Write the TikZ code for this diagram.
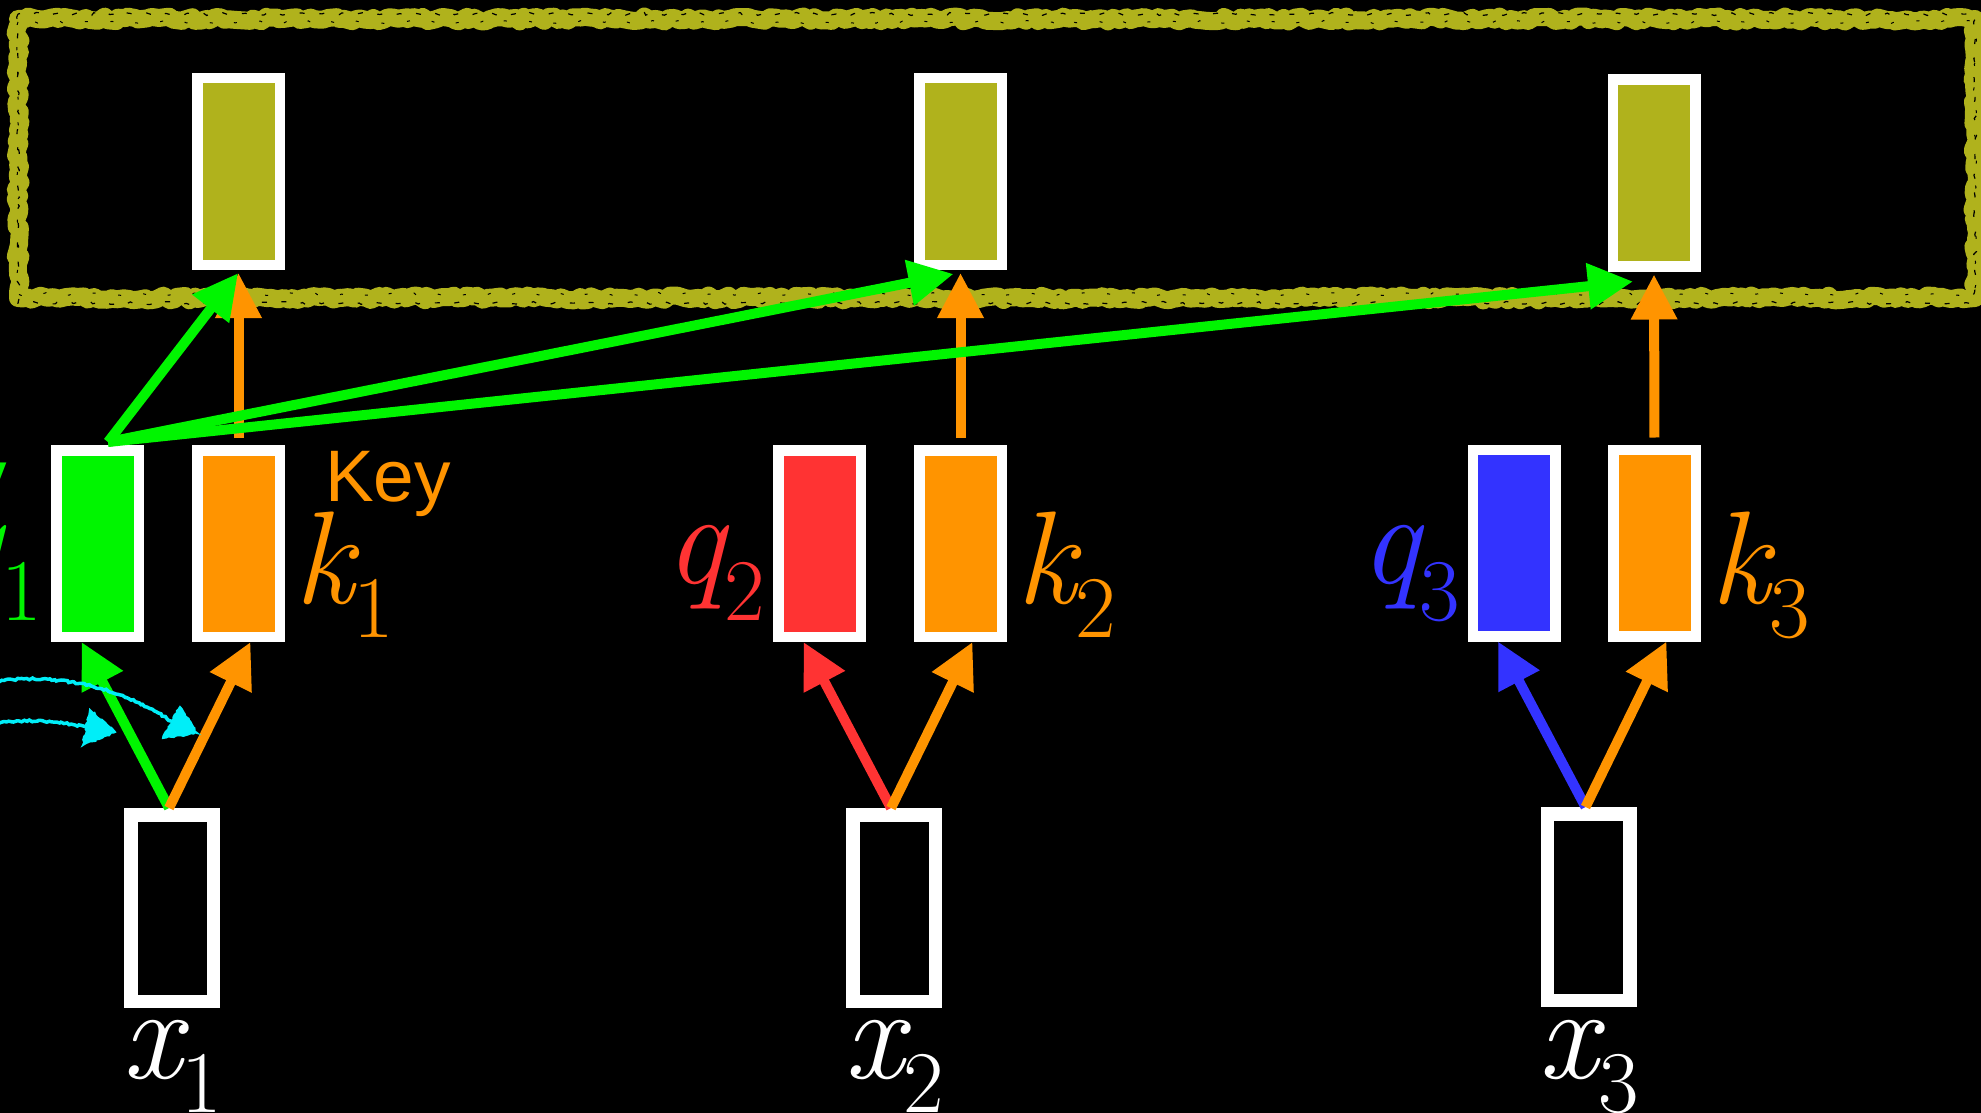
\documentclass[tikz,border=0pt]{standalone}
\usepackage{fontspec}
\newfontfamily\keyfont{Liberation Sans}
\usetikzlibrary{arrows.meta,decorations.pathmorphing}

\definecolor{vgreen}{RGB}{0,245,0}
\definecolor{korange}{RGB}{255,148,0}
\definecolor{qred}{RGB}{255,51,51}
\definecolor{qblue}{RGB}{51,51,255}
\definecolor{olive}{RGB}{176,178,28}
\definecolor{chalkcyan}{RGB}{0,238,248}

% symbol with a lowered upright index
\newcommand\symlab[3][34pt]{{\itshape #2}\raisebox{-#1}{\upshape\fontsize{88}{88}\selectfont #3}}

\tikzset{
  vec/.style={draw=white, line width=10.5pt, minimum width=82.5pt,
    minimum height=186.5pt, inner sep=0pt},
  inbox/.style={draw=white, fill=black, line width=13.5pt, minimum width=82.5pt,
    minimum height=186.5pt, inner sep=0pt},
  sym/.style={font=\rmfamily\fontsize{132}{132}\selectfont, inner sep=0pt},
  word/.style={font=\keyfont\fontsize{73}{73}\selectfont, inner sep=0pt},
  arr/.style={line width=10pt, -{Triangle[length=45pt,width=44pt]}},
  chalk/.style={draw=chalkcyan, line width=3.5pt, decorate,
    decoration={random steps, segment length=2.5pt, amplitude=1pt}},
  chalkhead/.style={fill=chalkcyan, draw=chalkcyan, line width=2pt, decorate,
    decoration={random steps, segment length=2.5pt, amplitude=1pt}},
}

\begin{document}
\begin{tikzpicture}[x=1pt,y=-1pt]
\useasboundingbox (0,0) rectangle (1981,1113);
\fill[black] (0,0) rectangle (1981,1113);
\clip (0,0) rectangle (1981,1113);

% output frame, chalk style
\draw[olive, line width=18pt, line join=round, decorate,
  decoration={random steps, segment length=5pt, amplitude=2.5pt}]
  (18,19) rectangle (1975,298);
\draw[black, line width=1.2pt, dash pattern=on 5pt off 15pt, decorate,
  decoration={random steps, segment length=4pt, amplitude=1.5pt}]
  (18,14) rectangle (1975,303);
\draw[black, line width=1pt, dash pattern=on 3pt off 23pt, decorate,
  decoration={random steps, segment length=4pt, amplitude=1.5pt}]
  (18,22) rectangle (1975,294);

% outputs
\node[vec, fill=olive] (t1) at (238.5,171.5) {};
\node[vec, fill=olive] (t2) at (960.5,171.5) {};
\node[vec, fill=olive] (t3) at (1654,173) {};

% queries and keys
\node[vec, fill=vgreen]  (q1) at (97.5,543.5) {};
\node[vec, fill=korange] (k1) at (238.5,543.5) {};
\node[vec, fill=qred]    (q2) at (819.5,543.5) {};
\node[vec, fill=korange] (k2) at (960.5,543.5) {};
\node[vec, fill=qblue]   (q3) at (1514,543) {};
\node[vec, fill=korange] (k3) at (1654.5,543) {};

% inputs
\node[inbox] (x1) at (172,908) {};
\node[inbox] (x2) at (894,908) {};
\node[inbox] (x3) at (1588.5,907) {};

% labels
\node[word, text=vgreen, anchor=base east] (qword) at (7,501) {Query};
\node[word, text=korange, anchor=base west] (kword) at (325,501) {Key};

\node[sym, text=vgreen,  anchor=base east] (lq1) at (42,583)   {\symlab[37pt]{q}{1}};
\node[sym, text=qred,    anchor=base east] (lq2) at (765,583)  {\symlab[37pt]{q}{2}};
\node[sym, text=qblue,   anchor=base east] (lq3) at (1460,583) {\symlab[37pt]{q}{3}};
\node[sym, text=korange, anchor=base west] (lk1) at (294,603)  {\symlab{k}{1}};
\node[sym, text=korange, anchor=base west] (lk2) at (1016,603) {\symlab{k}{2}};
\node[sym, text=korange, anchor=base west] (lk3) at (1710,603) {\symlab{k}{3}};
\node[sym, text=white, anchor=base] (lx1) at (172,1078)    {\symlab{x}{1}};
\node[sym, text=white, anchor=base] (lx2) at (894,1078)    {\symlab{x}{2}};
\node[sym, text=white, anchor=base] (lx3) at (1588.5,1078) {\symlab{x}{3}};

% projections of each input
\draw[arr, vgreen]  ([xshift=-3pt]x1.north) -- ([xshift=-16pt]q1.south);
\draw[arr, korange] ([xshift=-3pt]x1.north) -- ([xshift=12pt]k1.south);
\draw[arr, qred]    ([xshift=-3pt]x2.north) -- ([xshift=-16pt]q2.south);
\draw[arr, korange] ([xshift=-3pt]x2.north) -- ([xshift=12pt]k2.south);
\draw[arr, qblue]   ([xshift=-3pt]x3.north) -- ([xshift=-16pt]q3.south);
\draw[arr, korange] ([xshift=-3pt]x3.north) -- ([xshift=12pt]k3.south);

% keys feed the outputs
\draw[arr, korange, shorten <=7pt, shorten >=3pt] (k1.north) -- (t1.south);
\draw[arr, korange, shorten <=7pt, shorten >=3pt] (k2.north) -- (t2.south);
\draw[arr, korange, shorten <=7pt, shorten >=3pt] (k3.north) -- (t3.south);

% query 1 attends to every output
\coordinate (fan) at (108,442);
\draw[arr, vgreen, shorten >=4pt] (fan) -- ([xshift=2pt]t1.south);
\draw[arr, vgreen] (fan) -- ([xshift=-7pt,yshift=-4pt]t2.south);
\draw[arr, vgreen] (fan) -- ([xshift=-21pt,yshift=-10pt]t3.south);

% chalk arrows coming in from the left
\coordinate (c1s) at (-3,681);
\coordinate (c1e) at (172,722);
\coordinate (c2s) at (-3,723);
\coordinate (c2e) at (86,727);
\draw[chalk] (c1s) .. controls (70,672) and (130,693) .. (c1e);
\draw[chalk] (c2s) .. controls (30,719) and (60,721) .. (c2e);
\filldraw[chalkhead] (180,707) -- (163,738) -- (197,733) -- cycle;
\filldraw[chalkhead] (90,710) -- (83,745) -- (115,732) -- cycle;
\end{tikzpicture}
\end{document}
